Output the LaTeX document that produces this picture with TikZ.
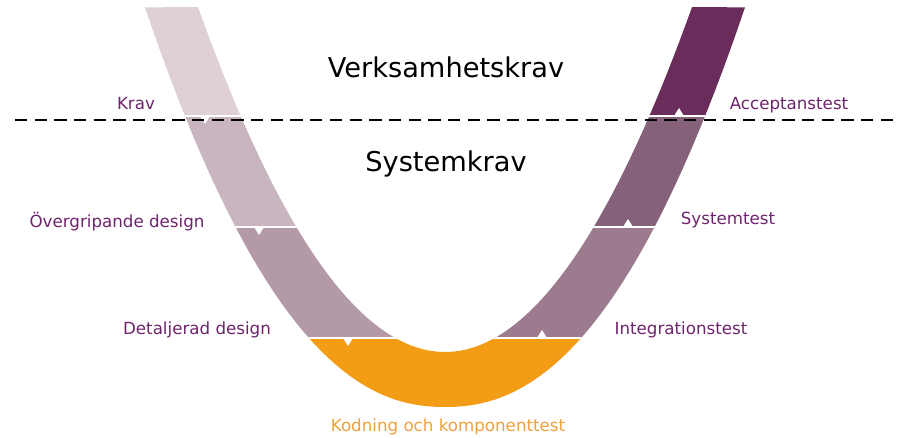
\documentclass[tikz,border=0pt]{standalone}
\usepackage{fontspec}
\setmainfont{DejaVu Sans}
\usepackage{xcolor}
\usepackage{tikz}
\usetikzlibrary{positioning}
\definecolor{vtext}{RGB}{110,36,108}
\definecolor{kodtext}{RGB}{240,160,60}
\definecolor{segkrav}{RGB}{222,208,214}
\definecolor{segoverg}{RGB}{201,181,191}
\definecolor{segdetalj}{RGB}{180,154,169}
\definecolor{segkod}{RGB}{243,156,22}
\definecolor{seginteg}{RGB}{156,123,142}
\definecolor{segsys}{RGB}{134,98,122}
\definecolor{segaccept}{RGB}{106,45,91}
\tikzset{
  lbl/.style={text=vtext, font=\fontsize{9.5}{11}\selectfont, inner sep=0pt, anchor=base},
  big/.style={text=black, font=\fontsize{15.5}{18}\selectfont, inner sep=0pt, anchor=base},
  cut/.style={white, line width=0.9pt},
  notch/.style={fill=white},
  divider/.style={black, line width=1.6pt, dash pattern=on 7pt off 4.2pt}
}

\begin{document}
\begin{tikzpicture}[x=0.02cm, y=-0.02cm]
    \useasboundingbox (0,0) rectangle (903,438);
    % Band (outer edge, then inner edge back)
    \def\band{plot[domain=-300:300, samples=80, variable=\t] ({445+\t},{407-(abs(\t)/20.24)^2.222}) -- plot[domain=247:-247, samples=80, variable=\t] ({445+\t},{352-(\t/13.3)^2}) -- cycle}
    \begin{scope}
      \clip \band;
      \fill[segkrav] (0,0) rectangle (445,116);
      \fill[segoverg] (0,116) rectangle (445,227);
      \fill[segdetalj] (0,227) rectangle (445,338);
      \fill[segaccept] (445,0) rectangle (903,116);
      \fill[segsys] (445,116) rectangle (903,227);
      \fill[seginteg] (445,227) rectangle (903,338);
      \fill[segkod] (0,338) rectangle (903,438);
      % Cuts
      \foreach \y in {116,227,338} \draw[cut] (0,\y) -- (903,\y);
    \end{scope}
    % Notches
    \foreach \x/\y/\d in {205/116/1, 259/227/1, 348/338/1, 679/116/-1, 628/227/-1, 542/338/-1}
      \fill[notch] (\x-5,\y) -- (\x+5,\y) -- (\x,\y+8*\d) -- cycle;
    % Divider
    \draw[divider] (15,120) -- (900,120);
    % Levels
    \node[big] (verks) at (446,78) {Verksamhetskrav};
    \node[big] (syskrav) at (446,172) {Systemkrav};
    % Left side
    \node[lbl] (krav) at (136,110) {Krav};
    \node[lbl] (overg) at (117,228) {Övergripande design};
    \node[lbl] (detalj) at (197,335) {Detaljerad design};
    % Right side
    \node[lbl] (accept) at (789,110) {Acceptanstest};
    \node[lbl] (systest) at (728,225) {Systemtest};
    \node[lbl] (integ) at (681,335) {Integrationstest};
    % Bottom
    \node[lbl, text=kodtext] (kodning) at (448,432) {Kodning och komponenttest};
\end{tikzpicture}
\end{document}
